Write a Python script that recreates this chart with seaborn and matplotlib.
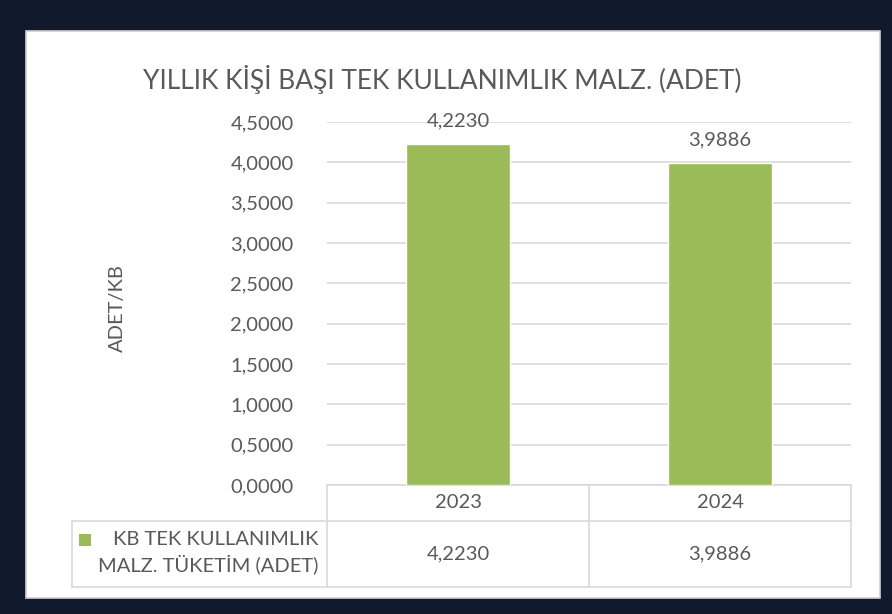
import matplotlib
matplotlib.use("Agg")
import matplotlib.pyplot as plt
import seaborn as sns
import pandas as pd
from matplotlib.lines import Line2D
from matplotlib.patches import Rectangle
from matplotlib.ticker import FuncFormatter

# data
years = ["2023", "2024"]
values = [4.2230, 3.9886]
series_name = "KB TEK KULLANIMLIK\nMALZ. TÜKETİM (ADET)"
title = "YILLIK KİŞİ BAŞI TEK KULLANIMLIK MALZ. (ADET)"
y_label = "ADET/KB"

W, H = 892, 614
bar_color = "#9bbb59"
text_color = "#595959"
grid_color = "#d9d9d9"
frame_color = "#111a2c"
fs = 14.5

sns.set_theme(style="white")
plt.rcParams["font.family"] = ["Lato", "DejaVu Sans"]


def fx(px):
    return px / W


def fy(py):
    return 1 - py / H


fig = plt.figure(figsize=(W / 100, H / 100), dpi=100, facecolor=frame_color)

# white chart panel
fig.patches.append(Rectangle((fx(26), fy(598)), fx(880) - fx(26), fy(31) - fy(598),
                             transform=fig.transFigure, facecolor="white",
                             edgecolor="#d0d0d0", linewidth=1.2, zorder=-5))

# plot area
ax_left, ax_right, ax_top, ax_bottom = 327, 851, 122, 485
ax = fig.add_axes([fx(ax_left), fy(ax_bottom), fx(ax_right) - fx(ax_left), fy(ax_top) - fy(ax_bottom)])
ax.set_facecolor("none")
ax.set_zorder(2)

df = pd.DataFrame({"year": years, "value": values})
sns.barplot(data=df, x="year", y="value", color=bar_color, saturation=1, width=0.4, ax=ax, zorder=3)

ax.set_ylim(0, 4.5)
ax.set_yticks([i * 0.5 for i in range(10)])
ax.yaxis.set_major_formatter(FuncFormatter(lambda v, p: f"{v:.4f}".replace(".", ",")))
ax.yaxis.grid(True, color=grid_color, linewidth=1.2, zorder=0)
ax.xaxis.grid(False)
ax.set_axisbelow(True)
for s in ax.spines.values():
    s.set_visible(False)
ax.tick_params(axis="y", length=0, pad=24, labelsize=fs, labelcolor=text_color)
ax.set_xticklabels([])
ax.tick_params(axis="x", length=0)
ax.set_xlabel("")
ax.set_ylabel("")

for p, v in zip(ax.patches, values):
    ax.annotate(f"{v:.4f}".replace(".", ","), (p.get_x() + p.get_width() / 2, p.get_height()),
                xytext=(0, 11), textcoords="offset points", ha="center", va="bottom",
                fontsize=fs, color=text_color)

fig.text(fx(442), fy(80), title, ha="center", va="center", fontsize=19, color=text_color)
fig.text(fx(117), fy(308), y_label, ha="center", va="center", rotation=90, fontsize=fs, color=text_color)

# data table below the axis
row1_top, row1_bot, row2_bot = 485, 521, 587
tab_left = 72
col_x = [ax_left, (ax_left + ax_right) / 2, ax_right]


def hline(x0, x1, y):
    fig.add_artist(Line2D([fx(x0), fx(x1)], [fy(y), fy(y)], color=grid_color, linewidth=1.2))


def vline(x, y0, y1):
    fig.add_artist(Line2D([fx(x), fx(x)], [fy(y0), fy(y1)], color=grid_color, linewidth=1.2))


hline(ax_left, ax_right, row1_top)
hline(tab_left, ax_right, row1_bot)
hline(tab_left, ax_right, row2_bot)
for x in col_x:
    vline(x, row1_top, row2_bot)
vline(tab_left, row1_bot, row2_bot)

for i, (yr, v) in enumerate(zip(years, values)):
    cx = (col_x[i] + col_x[i + 1]) / 2
    fig.text(fx(cx), fy((row1_top + row1_bot) / 2), yr, ha="center", va="center",
             fontsize=fs, color=text_color)
    fig.text(fx(cx), fy((row1_bot + row2_bot) / 2), f"{v:.4f}".replace(".", ","),
             ha="center", va="center", fontsize=fs, color=text_color)

# legend key + series name
fig.patches.append(Rectangle((fx(79), fy(546)), fx(12), fy(534) - fy(546),
                             transform=fig.transFigure, facecolor=bar_color, edgecolor="none"))
fig.text(fx(208), fy(553), series_name, ha="center", va="center", fontsize=fs,
         color=text_color, linespacing=1.4, multialignment="right")

fig.savefig("out.png", dpi=100, facecolor=frame_color)
